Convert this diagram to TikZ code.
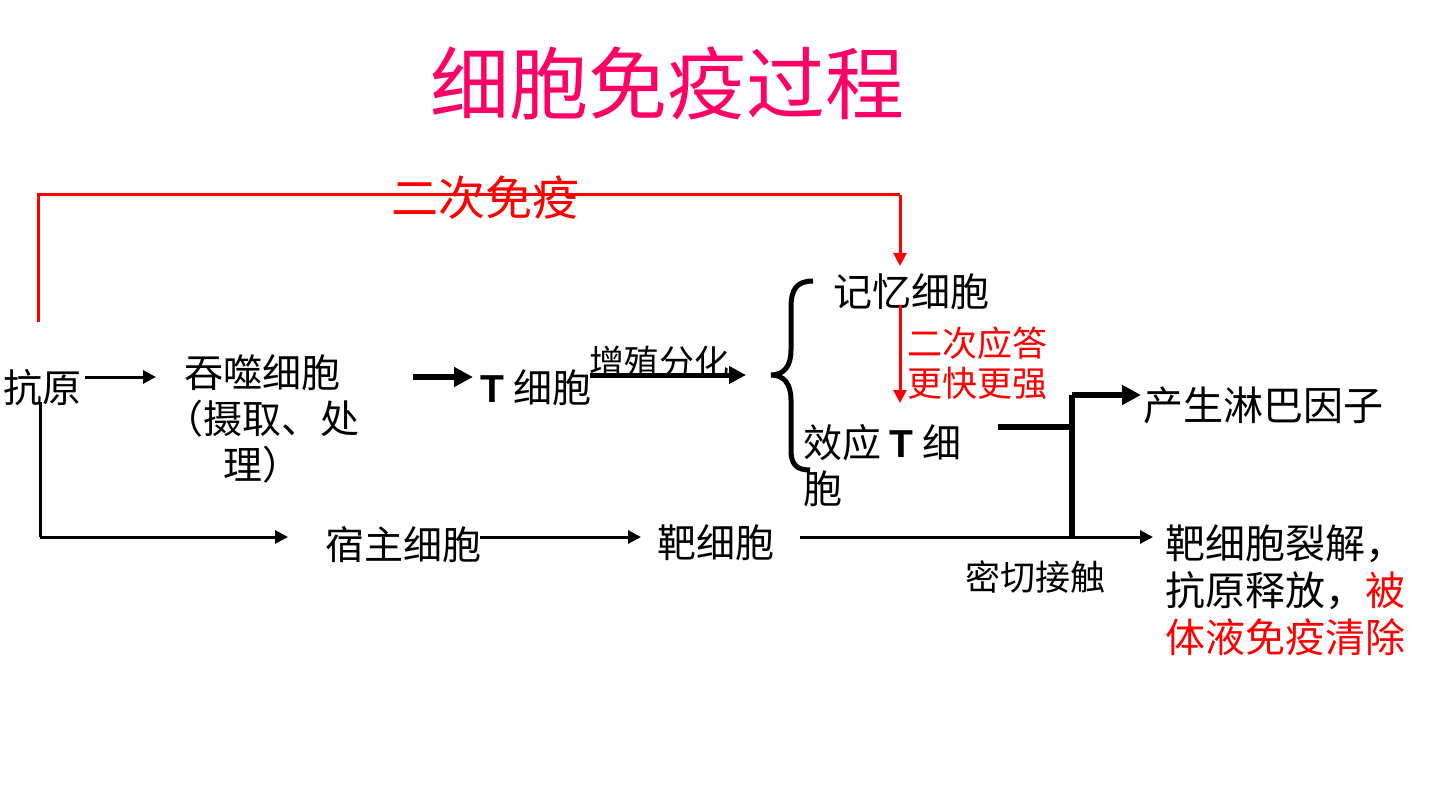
\documentclass[tikz,border=0pt]{standalone}
\usepackage{fontspec}
\setmainfont{Noto Sans CJK SC}
\newfontfamily\latinfont{Liberation Sans}
\usetikzlibrary{arrows.meta}
\definecolor{titlepink}{RGB}{255,0,102}
\definecolor{redline}{RGB}{255,0,0}

\begin{document}
\begin{tikzpicture}[x=1pt,y=-1pt,
    txt/.style={inner sep=0pt,font=\fontsize{39}{46}\selectfont},
    note/.style={inner sep=0pt,font=\fontsize{35}{40}\selectfont},
    thinarrow/.style={line width=3pt,-{Triangle[length=13pt,width=13pt]}},
    thickarrow/.style={line width=6pt,-{Triangle[length=19pt,width=19pt]}}]
    \useasboundingbox (0,0) rectangle (1440,810);
    % title
    \node[inner sep=0pt,text=titlepink,font=\fontsize{79}{79}\selectfont](title)at(667,83){细胞免疫过程};
    % cells
    \node[txt](antigen)at(42,388){抗原};
    \node[txt,align=center](phago)at(262,419){吞噬细胞\\（摄取、处\\理）};
    \node[txt](tcell)at(536,388){{\latinfont\bfseries T} 细胞};
    \node[txt](memory)at(911,292){记忆细胞};
    \node[txt,align=left,anchor=west](effector)at(803,466){效应 {\latinfont\bfseries T} 细\\胞};
    \node[txt,font=\fontsize{40}{47}\selectfont](lymph)at(1263,405){产生淋巴因子};
    \node[txt](host)at(403,545){宿主细胞};
    \node[txt](target)at(716,543){靶细胞};
    \node[txt,align=left,anchor=west,font=\fontsize{40}{47}\selectfont](result)at(1165,590){靶细胞裂解，\\抗原释放，\textcolor{redline}{被}\\\textcolor{redline}{体液免疫清除}};
    % labels
    \node[note](prolif)at(659,362){增殖分化};
    \node[note](contact)at(1035,577){密切接触};
    \node[note,text=redline,align=left,anchor=west](faster)at(907,363){二次应答\\更快更强};
    % secondary immunity
    \coordinate(R1)at(38,322);
    \coordinate(R2)at(38,195);
    \coordinate(R3)at(900,195);
    \coordinate(R4)at(900,266);
    \draw[redline,line width=3pt](R1)--(R2)--(R3);
    \draw[redline,thinarrow](R3)--(R4);
    \node[inner sep=0pt,text=redline,font=\fontsize{47}{47}\selectfont](second)at(485,198){二次免疫};
    \coordinate(M1)at(900,305);
    \coordinate(M2)at(900,403);
    \draw[redline,thinarrow](M1)--(M2);
    % upper row
    \coordinate(A1)at(85,377);
    \coordinate(A2)at(156,377);
    \coordinate(P1)at(413,377);
    \coordinate(P2)at(473,377);
    \coordinate(T1)at(590,375);
    \coordinate(T2)at(746,375);
    \draw[thinarrow](A1)--(A2);
    \draw[thickarrow](P1)--(P2);
    \draw[line width=5pt,-{Triangle[length=17pt,width=17pt]}](T1)--(T2);
    % brace
    \draw[line width=5pt](813,281) .. controls (796,281) and (791,290) .. (791,308)
        --(791,350) .. controls (791,366) and (784,375) .. (771,375)
        .. controls (784,375) and (791,384) .. (791,400)
        --(791,450) .. controls (791,464) and (796,470) .. (810,470);
    % effector T cell
    \coordinate(E1)at(998,427);
    \coordinate(J1)at(1072,427);
    \coordinate(J2)at(1072,395);
    \coordinate(J3)at(1072,538);
    \coordinate(L1)at(1141,395);
    \draw[line width=6pt](E1)--(J1);
    \draw[line width=6pt](J3)--(J2);
    \draw[thickarrow](J2)--(L1);
    % lower row
    \coordinate(B1)at(40,402);
    \coordinate(B2)at(40,537);
    \coordinate(B3)at(288,537);
    \coordinate(H1)at(480,537);
    \coordinate(H2)at(641,537);
    \coordinate(G1)at(800,537);
    \coordinate(G2)at(1153,537);
    \draw[line width=3pt](B1)--(B2);
    \draw[thinarrow](B2)--(B3);
    \draw[thinarrow](H1)--(H2);
    \draw[thinarrow](G1)--(G2);
\end{tikzpicture}
\end{document}
